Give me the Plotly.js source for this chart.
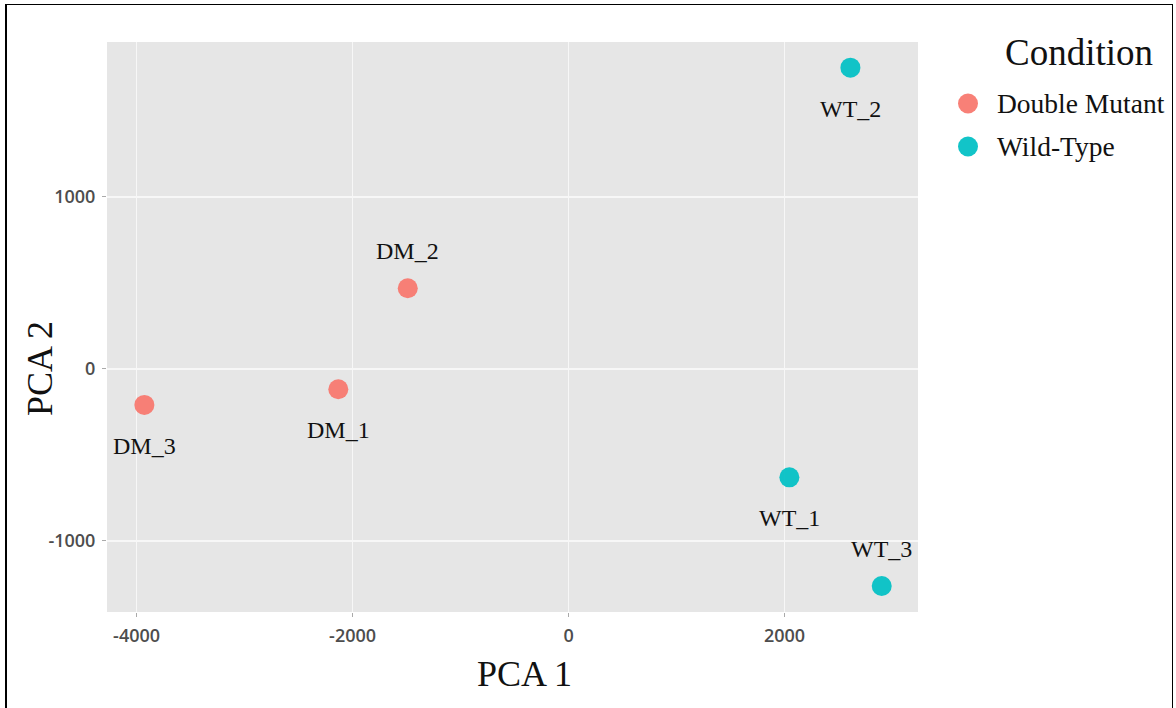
<!DOCTYPE html>
<html>
<head>
<meta charset="utf-8">
<script src="https://cdn.plot.ly/plotly-3.0.1.min.js"></script>
<style>
  html, body { margin: 0; padding: 0; background: #fff; }
  #wrap { position: relative; width: 1176px; height: 708px; }
  #chart { width: 1176px; height: 708px; }
  #frame { position: absolute; left: 5px; top: 4px; width: 1168px; height: 710px;
           border-left: 2px solid #000; border-top: 1.5px solid #000; border-right: 1.5px solid #000;
           pointer-events: none; box-sizing: border-box; }
</style>
</head>
<body>
<div id="wrap">
  <div id="chart"></div>
  <div id="frame"></div>
</div>
<script>
// ---- data ----
const sampleNames = ["DM_1", "DM_2", "DM_3", "WT_1", "WT_2", "WT_3"];
const conditions  = ["Double Mutant", "Double Mutant", "Double Mutant", "Wild-Type", "Wild-Type", "Wild-Type"];
const pca1 = [-2132, -1489, -3928, 2045, 2610, 2900];
const pca2 = [-118, 469, -209, -630, 1752, -1262];
const labelSide = ["below", "above", "below", "below", "below", "above"];
const groups = ["Double Mutant", "Wild-Type"];
const xTicks = [-4000, -2000, 0, 2000];
const yTicks = [-1000, 0, 1000];
const legendTitle = "Condition";
const xTitle = "PCA 1";
const yTitle = "PCA 2";

// ---- styles ----
const groupColors = {"Double Mutant": "#F8766D", "Wild-Type": "#00BFC4"};
const serif = "Liberation Serif, Times New Roman, serif";
const sans = "Open Sans, Liberation Sans, Arial, sans-serif";
const textColor = "#111";

// plot area in pixels (for placing paper-referenced decorations)
const M = {l: 107, r: 258, t: 42, b: 96};
const W = 1176, H = 708;
const pw = W - M.l - M.r, ph = H - M.t - M.b;
const px = v => (v - M.l) / pw;          // pixel x -> paper
const py = v => (H - M.b - v) / ph;      // pixel y -> paper

const traces = groups.map(g => {
  const idx = conditions.map((c, i) => c === g ? i : -1).filter(i => i >= 0);
  return {
    type: "scatter",
    mode: "markers",
    name: g,
    x: idx.map(i => pca1[i]),
    y: idx.map(i => pca2[i]),
    text: idx.map(i => sampleNames[i]),
    marker: {color: groupColors[g], size: 20, opacity: 0.93},
    hoverinfo: "text",
    showlegend: false
  };
});

const annotations = sampleNames.map((s, i) => ({
  x: pca1[i], y: pca2[i], xref: "x", yref: "y",
  text: s, showarrow: false,
  yshift: labelSide[i] === "above" ? 37 : -41,
  font: {family: serif, size: 24, color: textColor}
}));

// axis titles
annotations.push({
  xref: "paper", yref: "paper", x: px(524), y: py(674), xanchor: "center", yanchor: "middle",
  text: xTitle, showarrow: false, font: {family: serif, size: 36, color: textColor}
});
annotations.push({
  xref: "paper", yref: "paper", x: px(40), y: py(369), xanchor: "center", yanchor: "middle",
  text: yTitle, textangle: -90, showarrow: false, font: {family: serif, size: 36, color: textColor}
});

// legend (drawn manually)
annotations.push({
  xref: "paper", yref: "paper", x: px(1079), y: py(52), xanchor: "center", yanchor: "middle",
  text: legendTitle, showarrow: false, font: {family: serif, size: 37, color: textColor}
});
const legendRowY = [103, 146];
const shapes = [];
groups.forEach((g, k) => {
  annotations.push({
    xref: "paper", yref: "paper", x: px(995), y: py(legendRowY[k]), xanchor: "left", yanchor: "middle",
    text: g, showarrow: false, font: {family: serif, size: 27.5, color: textColor}
  });
  shapes.push({
    type: "circle", xref: "paper", yref: "paper", xsizemode: "pixel", ysizemode: "pixel",
    xanchor: px(968), yanchor: py(legendRowY[k] + 0.5),
    x0: -10, x1: 10, y0: -10, y1: 10,
    fillcolor: groupColors[g], opacity: 0.93, line: {width: 0}
  });
});

const axisCommon = {
  showgrid: true, gridcolor: "#F7F7F7", gridwidth: 1.2, zeroline: false,
  ticks: "outside", ticklen: 4, tickwidth: 1, tickcolor: "#AAAAAA",
  tickfont: {family: sans, size: 18, color: "#4D4D4D", weight: 600},
  showline: false, automargin: false
};

const layout = {
  width: W, height: H,
  margin: {l: M.l, r: M.r, t: M.t, b: M.b, pad: 0},
  paper_bgcolor: "#fff",
  plot_bgcolor: "#E6E6E6",
  showlegend: false,
  xaxis: Object.assign({}, axisCommon, {
    range: [-4274, 3236], tickvals: xTicks, ticktext: xTicks.map(String), ticklabelstandoff: 3
  }),
  yaxis: Object.assign({}, axisCommon, {
    range: [-1413, 1901], tickvals: yTicks, ticktext: yTicks.map(String), ticklabelstandoff: 3
  }),
  annotations: annotations,
  shapes: shapes
};

Plotly.newPlot("chart", traces, layout, {displayModeBar: false, staticPlot: true});
</script>
</body>
</html>
